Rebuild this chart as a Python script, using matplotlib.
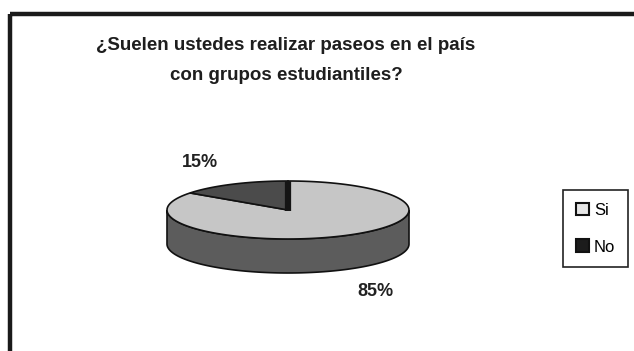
import numpy as np
import matplotlib.pyplot as plt
from matplotlib.patches import Polygon, Rectangle, Patch

labels = ['Si', 'No']
shares = [85, 15]
pct_text = ['85%', '15%']
top_colors = ['#c6c6c6', '#4b4b4b']
side_colors = ['#5c5c5c', '#3a3a3a']
legend_colors = ['#e6e6e6', '#1c1c1c']

plt.rcParams['font.family'] = ['Liberation Sans', 'DejaVu Sans']

fig = plt.figure(figsize=(6.34, 3.51), dpi=100)
ax = fig.add_axes([0, 0, 1, 1])
ax.set_xlim(0, 634)
ax.set_ylim(351, 0)
ax.axis('off')

# outer chart frame (only top and left edges fall inside the image)
ax.add_patch(Rectangle((10, 14), 700, 400, fill=False, lw=3.2, ec='#1a1a1a'))

ax.text(286, 45, '¿Suelen ustedes realizar paseos en el país',
        ha='center', va='center', fontsize=13.5, fontweight='bold', color='#1e1e1e')
ax.text(286, 75, 'con grupos estudiantiles?',
        ha='center', va='center', fontsize=13.5, fontweight='bold', color='#1e1e1e')

# 3D pie geometry
cx, cy, rx, ry, depth = 288, 210, 121, 29, 34


def rim(a0, a1, dy=0, n=120):
    t = np.radians(np.linspace(a0, a1, n))
    return np.column_stack([cx + rx * np.cos(t), cy - ry * np.sin(t) + dy])


# slices start at 12 o'clock, "No" goes counter-clockwise first
total = sum(shares)
spans = {}
start = 90
for lab, val in zip(reversed(labels), reversed(shares)):
    end = start + 360 * val / total
    spans[lab] = (start, end)
    start = end

# side walls (front half only)
for lab, col in zip(labels, side_colors):
    a0, a1 = spans[lab]
    for off in (0, 360):
        lo, hi = max(a0, 180 + off), min(a1, 360 + off)
        if hi > lo:
            pts = np.vstack([rim(lo, hi), rim(hi, lo, dy=depth)])
            ax.add_patch(Polygon(pts, closed=True, fc=col, ec='#111111', lw=1.2))

# top faces
for lab, col in zip(labels, top_colors):
    a0, a1 = spans[lab]
    pts = np.vstack([[cx, cy], rim(a0, a1)])
    ax.add_patch(Polygon(pts, closed=True, fc=col, ec='#111111', lw=1.2))

# cut face at 12 o'clock
ax.plot([cx, cx], [cy + 1, cy - ry], color='#151515', lw=4.5, solid_capstyle='butt')

# percentage labels
for lab, txt in zip(labels, pct_text):
    a0, a1 = spans[lab]
    mid = np.radians((a0 + a1) / 2)
    lx = cx + rx * 1.6 * np.cos(mid)
    ly = cy - ry * 1.85 * np.sin(mid)
    if np.sin(mid) < 0:
        ly += depth
    ax.text(lx, ly, txt, ha='center', va='center', fontsize=13,
            fontweight='bold', color='#222222')

handles = [Patch(fc=c, ec='#111111', lw=1.5) for c in legend_colors]
leg = ax.legend(handles, labels, loc='upper left', bbox_to_anchor=(563 / 634, 1 - 190 / 351),
                fontsize=12, frameon=True, fancybox=False, framealpha=1,
                edgecolor='#222222', handlelength=0.8, handleheight=0.8,
                handletextpad=0.3, labelspacing=1.3, borderpad=0.75, borderaxespad=0)
leg.get_frame().set_linewidth(1.2)

fig.savefig('out.png', dpi=100, facecolor='white')
